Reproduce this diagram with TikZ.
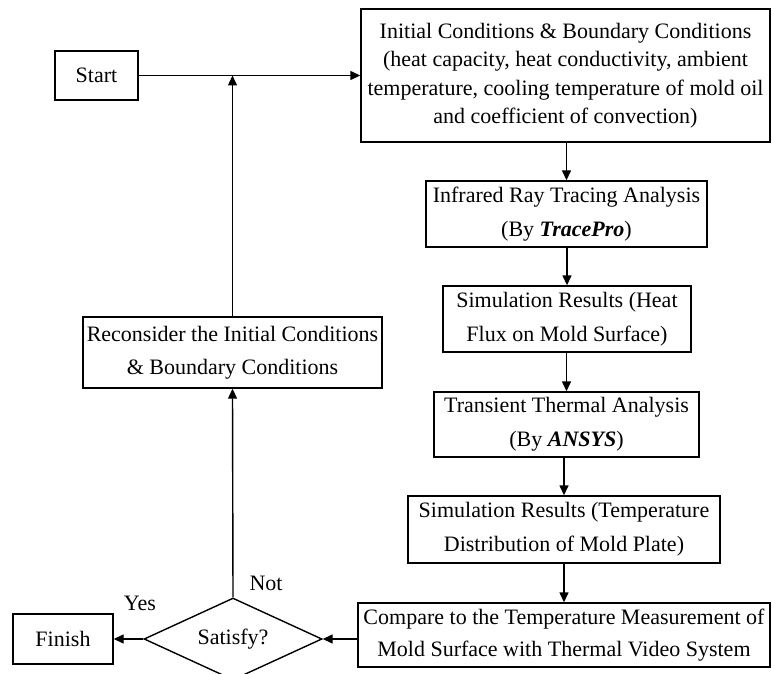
\documentclass[tikz,border=0pt]{standalone}
\usepackage{fontspec}
\setmainfont{Liberation Serif}
\usetikzlibrary{shapes.geometric,arrows.meta}
\begin{document}
\begin{tikzpicture}[x=1pt,y=-1pt,
  box/.style={draw,line width=1.4pt,inner sep=0pt,align=center,font=\fontsize{22}{34}\selectfont},
  arr/.style={line width=1.4pt,-{Triangle[length=10pt,width=9pt]}},
  lbl/.style={font=\fontsize{22}{26}\selectfont,inner sep=0pt}]
\clip (0,0) rectangle (772,674);
\node[box,minimum width=83pt,minimum height=49pt] (start) at (96.5,75.5) {Start};
\node[box,minimum width=409pt,minimum height=133pt,font=\fontsize{22}{28.5}\selectfont] (init) at (565.5,75.5)
  {Initial Conditions \& Boundary Conditions\\(heat capacity, heat conductivity, ambient\\temperature, cooling temperature of mold oil\\and coefficient of convection)};
\node[box,minimum width=281pt,minimum height=66pt] (infra) at (566.5,214) {Infrared Ray Tracing Analysis\\(By \textbf{\textit{TracePro}})};
\node[box,minimum width=248pt,minimum height=66pt] (flux) at (567,319) {Simulation Results (Heat\\Flux on Mold Surface)};
\node[box,minimum width=265pt,minimum height=65pt] (trans) at (566.5,424.5) {Transient Thermal Analysis\\(By \textbf{\textit{ANSYS}})};
\node[box,minimum width=312pt,minimum height=67pt] (temp) at (564,529.5) {Simulation Results (Temperature\\Distribution of Mold Plate)};
\node[box,minimum width=412pt,minimum height=64pt,font=\fontsize{22}{32}\selectfont] (comp) at (564,635) {Compare to the Temperature Measurement of\\Mold Surface with Thermal Video System};
\node[box,minimum width=299pt,minimum height=71pt,font=\fontsize{22}{33}\selectfont] (recon) at (232.5,352.5) {Reconsider the Initial Conditions\\\& Boundary Conditions};
\node[box,minimum width=100pt,minimum height=50pt] (finish) at (63,639) {Finish};
\node[box,diamond,minimum width=178pt,minimum height=82pt,aspect=2.17] (sat) at (233,639) {Satisfy?};
\node[lbl] (notl) at (266,583) {Not};
\node[lbl] (yesl) at (140,603) {Yes};
\coordinate (join) at (recon.north |- start.east);
\draw[arr] (start.east) -- (init.west |- start.east);
\draw[arr] (recon.north) -- (join);
\draw[arr] (infra.north |- init.south) -- (infra.north);
\draw[arr] (flux.north |- infra.south) -- (flux.north);
\draw[arr] (trans.north |- flux.south) -- (trans.north);
\draw[arr] (temp.north |- trans.south) -- (temp.north);
\draw[arr] (comp.north |- temp.south) -- (comp.north);
\draw[arr] (sat.east -| comp.west) -- (sat.east);
\draw[arr] (sat.west) -- (finish.east);
\draw[arr] (sat.north) -- (recon.south);
\end{tikzpicture}
\end{document}
